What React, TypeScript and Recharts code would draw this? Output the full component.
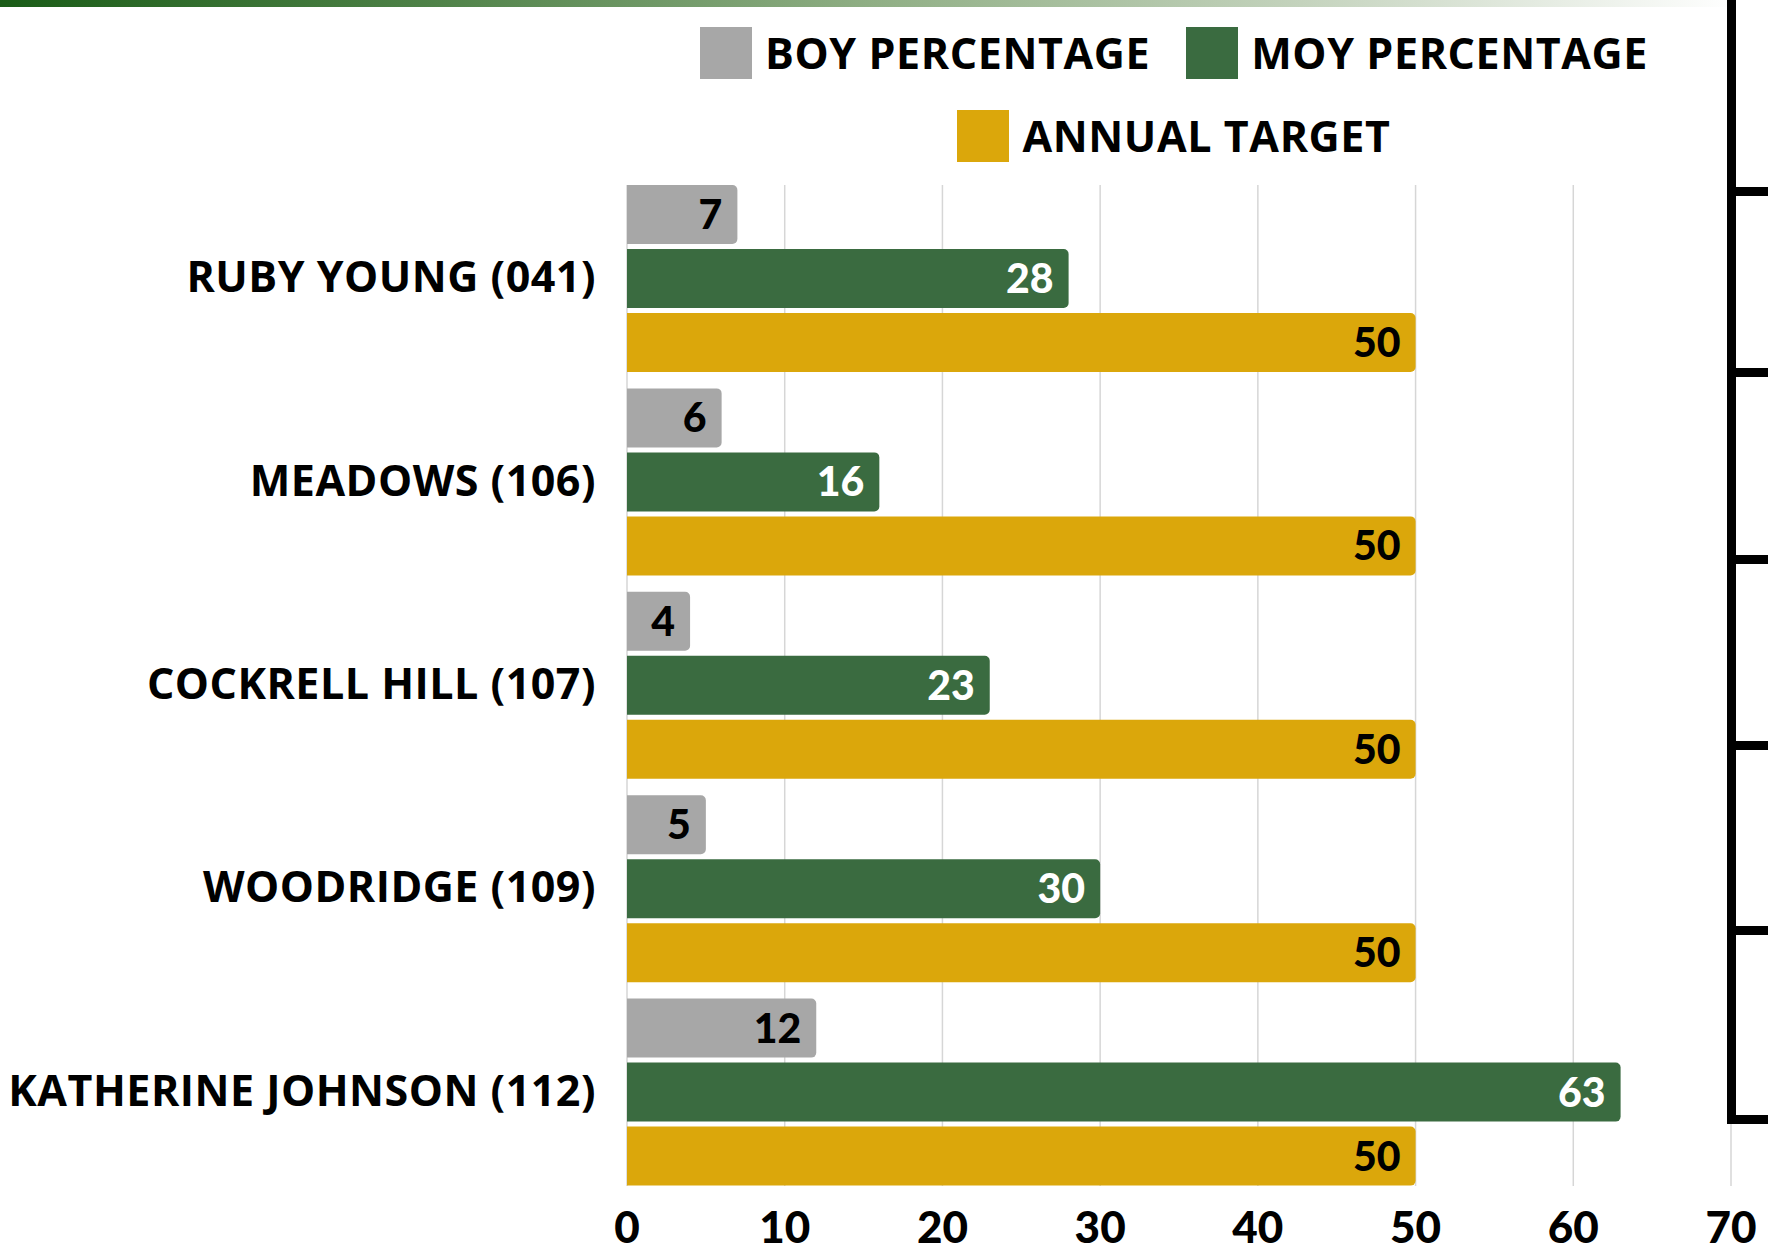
import { Bar, BarChart, CartesianGrid, LabelList, Legend, XAxis, YAxis } from 'recharts'

// BOY / MOY percentage per campus vs. the annual target — horizontal grouped bars.

const campuses = ['RUBY YOUNG (041)', 'MEADOWS (106)', 'COCKRELL HILL (107)', 'WOODRIDGE (109)', 'KATHERINE JOHNSON (112)']
const boyPct = [7, 6, 4, 5, 12]
const moyPct = [28, 16, 23, 30, 63]
const annualTarget = [50, 50, 50, 50, 50]
const xTicks = [0, 10, 20, 30, 40, 50, 60, 70]

const series = [
  { key: 'boy', name: 'BOY PERCENTAGE', color: '#A7A7A7', labelColor: '#000' },
  { key: 'moy', name: 'MOY PERCENTAGE', color: '#3A6B40', labelColor: '#fff' },
  { key: 'target', name: 'ANNUAL TARGET', color: '#DBA70B', labelColor: '#000' },
]

const data = campuses.map((name, i) => ({
  name,
  boy: boyPct[i],
  moy: moyPct[i],
  target: annualTarget[i],
}))

const TEXT_FONT = '"Open Sans", sans-serif'
const NUM_FONT = 'Lato, sans-serif'

function CampusTick({ x, y, payload }: any) {
  return (
    <text
      x={x + 1}
      y={y - 3}
      textAnchor="end"
      dominantBaseline="central"
      fontFamily={TEXT_FONT}
      fontWeight={700}
      fontSize={43}
      letterSpacing={0.5}
      fill="#000"
    >
      {payload.value}
    </text>
  )
}

function ValueTick({ x, y, payload }: any) {
  return (
    <text x={x} y={y + 40} textAnchor="middle" dominantBaseline="central" fontFamily={NUM_FONT} fontWeight={900} fontSize={44} fill="#000">
      {payload.value}
    </text>
  )
}

function renderLegend() {
  return (
    <div
      style={{
        display: 'flex',
        flexWrap: 'wrap',
        justifyContent: 'center',
        rowGap: 31,
        width: 960,
        marginLeft: 694,
        paddingTop: 27,
      }}
    >
      {series.map((s, i) => (
        <div key={s.key} style={{ display: 'flex', alignItems: 'center', height: 52, marginRight: i === 0 ? 36 : 0 }}>
          <span style={{ width: 52, height: 52, background: s.color, display: 'inline-block', marginRight: 13 }} />
          <span
            style={{
              fontFamily: TEXT_FONT,
              fontWeight: 700,
              fontSize: 43,
              letterSpacing: 0.6,
              color: '#000',
              lineHeight: '52px',
            }}
          >
            {s.name}
          </span>
        </div>
      ))}
    </div>
  )
}

export default function App() {
  return (
    <div style={{ position: 'absolute', left: 0, top: 0, width: 1768, height: 1254, background: '#fff', overflow: 'hidden' }}>
      <div
        style={{
          position: 'absolute',
          left: 0,
          top: 0,
          width: 1735,
          height: 7,
          background: 'linear-gradient(to right, #1a5c17 0%, #4f8248 25%, #8fae84 50%, #c4d3bd 75%, #ffffff 100%)',
        }}
      />
      <BarChart
        width={1768}
        height={1254}
        data={data}
        layout="vertical"
        margin={{ top: 185, right: 37, bottom: 0, left: 0 }}
        barSize={59}
        barGap={5}
      >
        <CartesianGrid horizontal={false} stroke="#d6d6d6" strokeWidth={1.5} />
        <XAxis
          type="number"
          domain={[0, 70]}
          ticks={xTicks}
          height={68}
          axisLine={false}
          tickLine={false}
          tickSize={0}
          tickMargin={0}
          tick={<ValueTick />}
        />
        <YAxis
          type="category"
          dataKey="name"
          width={627}
          padding={{ top: -8, bottom: -8 }}
          axisLine={false}
          tickLine={false}
          tickSize={0}
          tickMargin={32}
          tick={<CampusTick />}
        />
        <Legend verticalAlign="middle" content={renderLegend} wrapperStyle={{ top: 0, left: 0, width: 1768, height: 200 }} />
        {series.map((s) => (
          <Bar key={s.key} dataKey={s.key} name={s.name} fill={s.color} radius={[0, 5, 5, 0]} isAnimationActive={false}>
            <LabelList
              dataKey={s.key}
              position="insideRight"
              offset={15}
              fill={s.labelColor}
              fontFamily={NUM_FONT}
              fontWeight={900}
              fontSize={41}
            />
          </Bar>
        ))}
      </BarChart>
      {/* edge of the neighbouring table frame */}
      <div style={{ position: 'absolute', left: 1727, top: 0, width: 9, height: 1124, background: '#000' }} />
      {[192, 373, 560, 746, 931].map((t) => (
        <div key={t} style={{ position: 'absolute', left: 1727, top: t - 5, width: 41, height: 9, background: '#000' }} />
      ))}
      <div style={{ position: 'absolute', left: 1727, top: 1115, width: 41, height: 9, background: '#000' }} />
    </div>
  )
}
